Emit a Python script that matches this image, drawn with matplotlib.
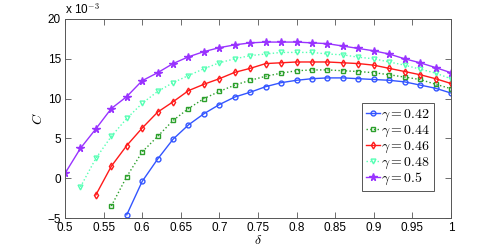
import numpy as np
import matplotlib
matplotlib.use('Agg')
import matplotlib.pyplot as plt

plt.rcParams['font.family'] = ['Liberation Sans', 'DejaVu Sans']
plt.rcParams['mathtext.fontset'] = 'cm'

# delta grid (step 0.02), values of C in units of 1e-3
delta = [0.50, 0.52, 0.54, 0.56, 0.58, 0.60, 0.62, 0.64, 0.66, 0.68, 0.70,
         0.72, 0.74, 0.76, 0.78, 0.80, 0.82, 0.84, 0.86, 0.88, 0.90, 0.92,
         0.94, 0.96, 0.98, 1.00]

c_042 = [-4.6, -0.4, 2.4, 4.9, 6.7, 8.1, 9.25, 10.2, 10.8, 11.5, 12.0, 12.3,
         12.5, 12.6, 12.6, 12.5, 12.4, 12.3, 12.1, 11.7, 11.3, 10.7]
c_044 = [-3.5, 0.2, 3.3, 5.25, 7.25, 8.75, 10.0, 10.9, 11.7, 12.3, 12.8, 13.2,
         13.5, 13.6, 13.6, 13.5, 13.4, 13.25, 13.0, 12.7, 12.4, 11.8, 11.25]
c_046 = [-2.1, 1.5, 4.1, 6.3, 8.3, 9.6, 11.0, 11.8, 12.5, 13.3, 13.8, 14.4,
         14.5, 14.6, 14.6, 14.6, 14.5, 14.4, 14.2, 13.8, 13.4, 13.0, 12.5,
         11.9]
c_048 = [-1.1, 2.5, 5.25, 7.5, 9.4, 10.9, 12.0, 12.9, 13.75, 14.5, 15.0, 15.4,
         15.6, 15.8, 15.8, 15.8, 15.6, 15.5, 15.2, 15.0, 14.6, 14.2, 13.7,
         13.2, 12.5]
c_050 = [0.6, 3.75, 6.2, 8.75, 10.25, 12.25, 13.25, 14.4, 15.25, 15.9, 16.4,
         16.75, 17.0, 17.1, 17.1, 17.1, 17.0, 16.9, 16.6, 16.3, 16.0, 15.6,
         15.0, 14.5, 13.9, 13.25]

series = [
    (r'$\gamma = 0.42$', c_042, '#3355ff', 'o', '-'),
    (r'$\gamma = 0.44$', c_044, '#2ca02c', 's', ':'),
    (r'$\gamma = 0.46$', c_046, '#ff1a1a', 'd', '-'),
    (r'$\gamma = 0.48$', c_048, '#55ffb4', 'v', ':'),
    (r'$\gamma = 0.5$', c_050, '#9933ff', '*', '-'),
]

fig = plt.figure(figsize=(4.98, 2.46), dpi=100)
ax = fig.add_axes([0.1305, 0.1138, 0.775, 0.809])

for label, vals, color, marker, ls in series:
    x = delta[len(delta) - len(vals):]
    ms = 5.5 if marker == '*' else 3.5
    ax.plot(x, vals, color=color, linestyle=ls, linewidth=1.0, marker=marker,
            markersize=ms, markerfacecolor='none' if marker in 'osdv' else color,
            markeredgewidth=1.0, label=label)

ax.set_xlim(0.5, 1.0)
ax.set_ylim(-5, 20)
ax.set_xticks(np.arange(0.5, 1.001, 0.05))
ax.set_xticklabels(['0.5', '0.55', '0.6', '0.65', '0.7', '0.75', '0.8',
                    '0.85', '0.9', '0.95', '1'])
ax.set_yticks([-5, 0, 5, 10, 15, 20])
ax.tick_params(direction='in', top=True, right=True, labelsize=8.5,
               length=4, width=0.6, color='#555555')
ax.tick_params(axis='x', pad=3)
ax.tick_params(axis='y', pad=3)
for s in ax.spines.values():
    s.set_color('#555555')
    s.set_linewidth(0.7)

ax.set_xlabel(r'$\delta$', fontsize=10, labelpad=-1)
ax.set_ylabel(r'$C$', fontsize=10, labelpad=2)
ax.text(0.0, 1.01, r'x 10$^{-3}$', transform=ax.transAxes, fontsize=8.5,
        ha='left', va='bottom')

leg = ax.legend(loc='lower right', bbox_to_anchor=(0.955, 0.136), fontsize=10,
                handlelength=1.0, handletextpad=0.1, borderpad=0.25,
                labelspacing=0.0, fancybox=False, framealpha=1,
                borderaxespad=0)
leg.get_frame().set_edgecolor('#555555')
leg.get_frame().set_linewidth(0.7)

fig.savefig('out.png', dpi=100)
